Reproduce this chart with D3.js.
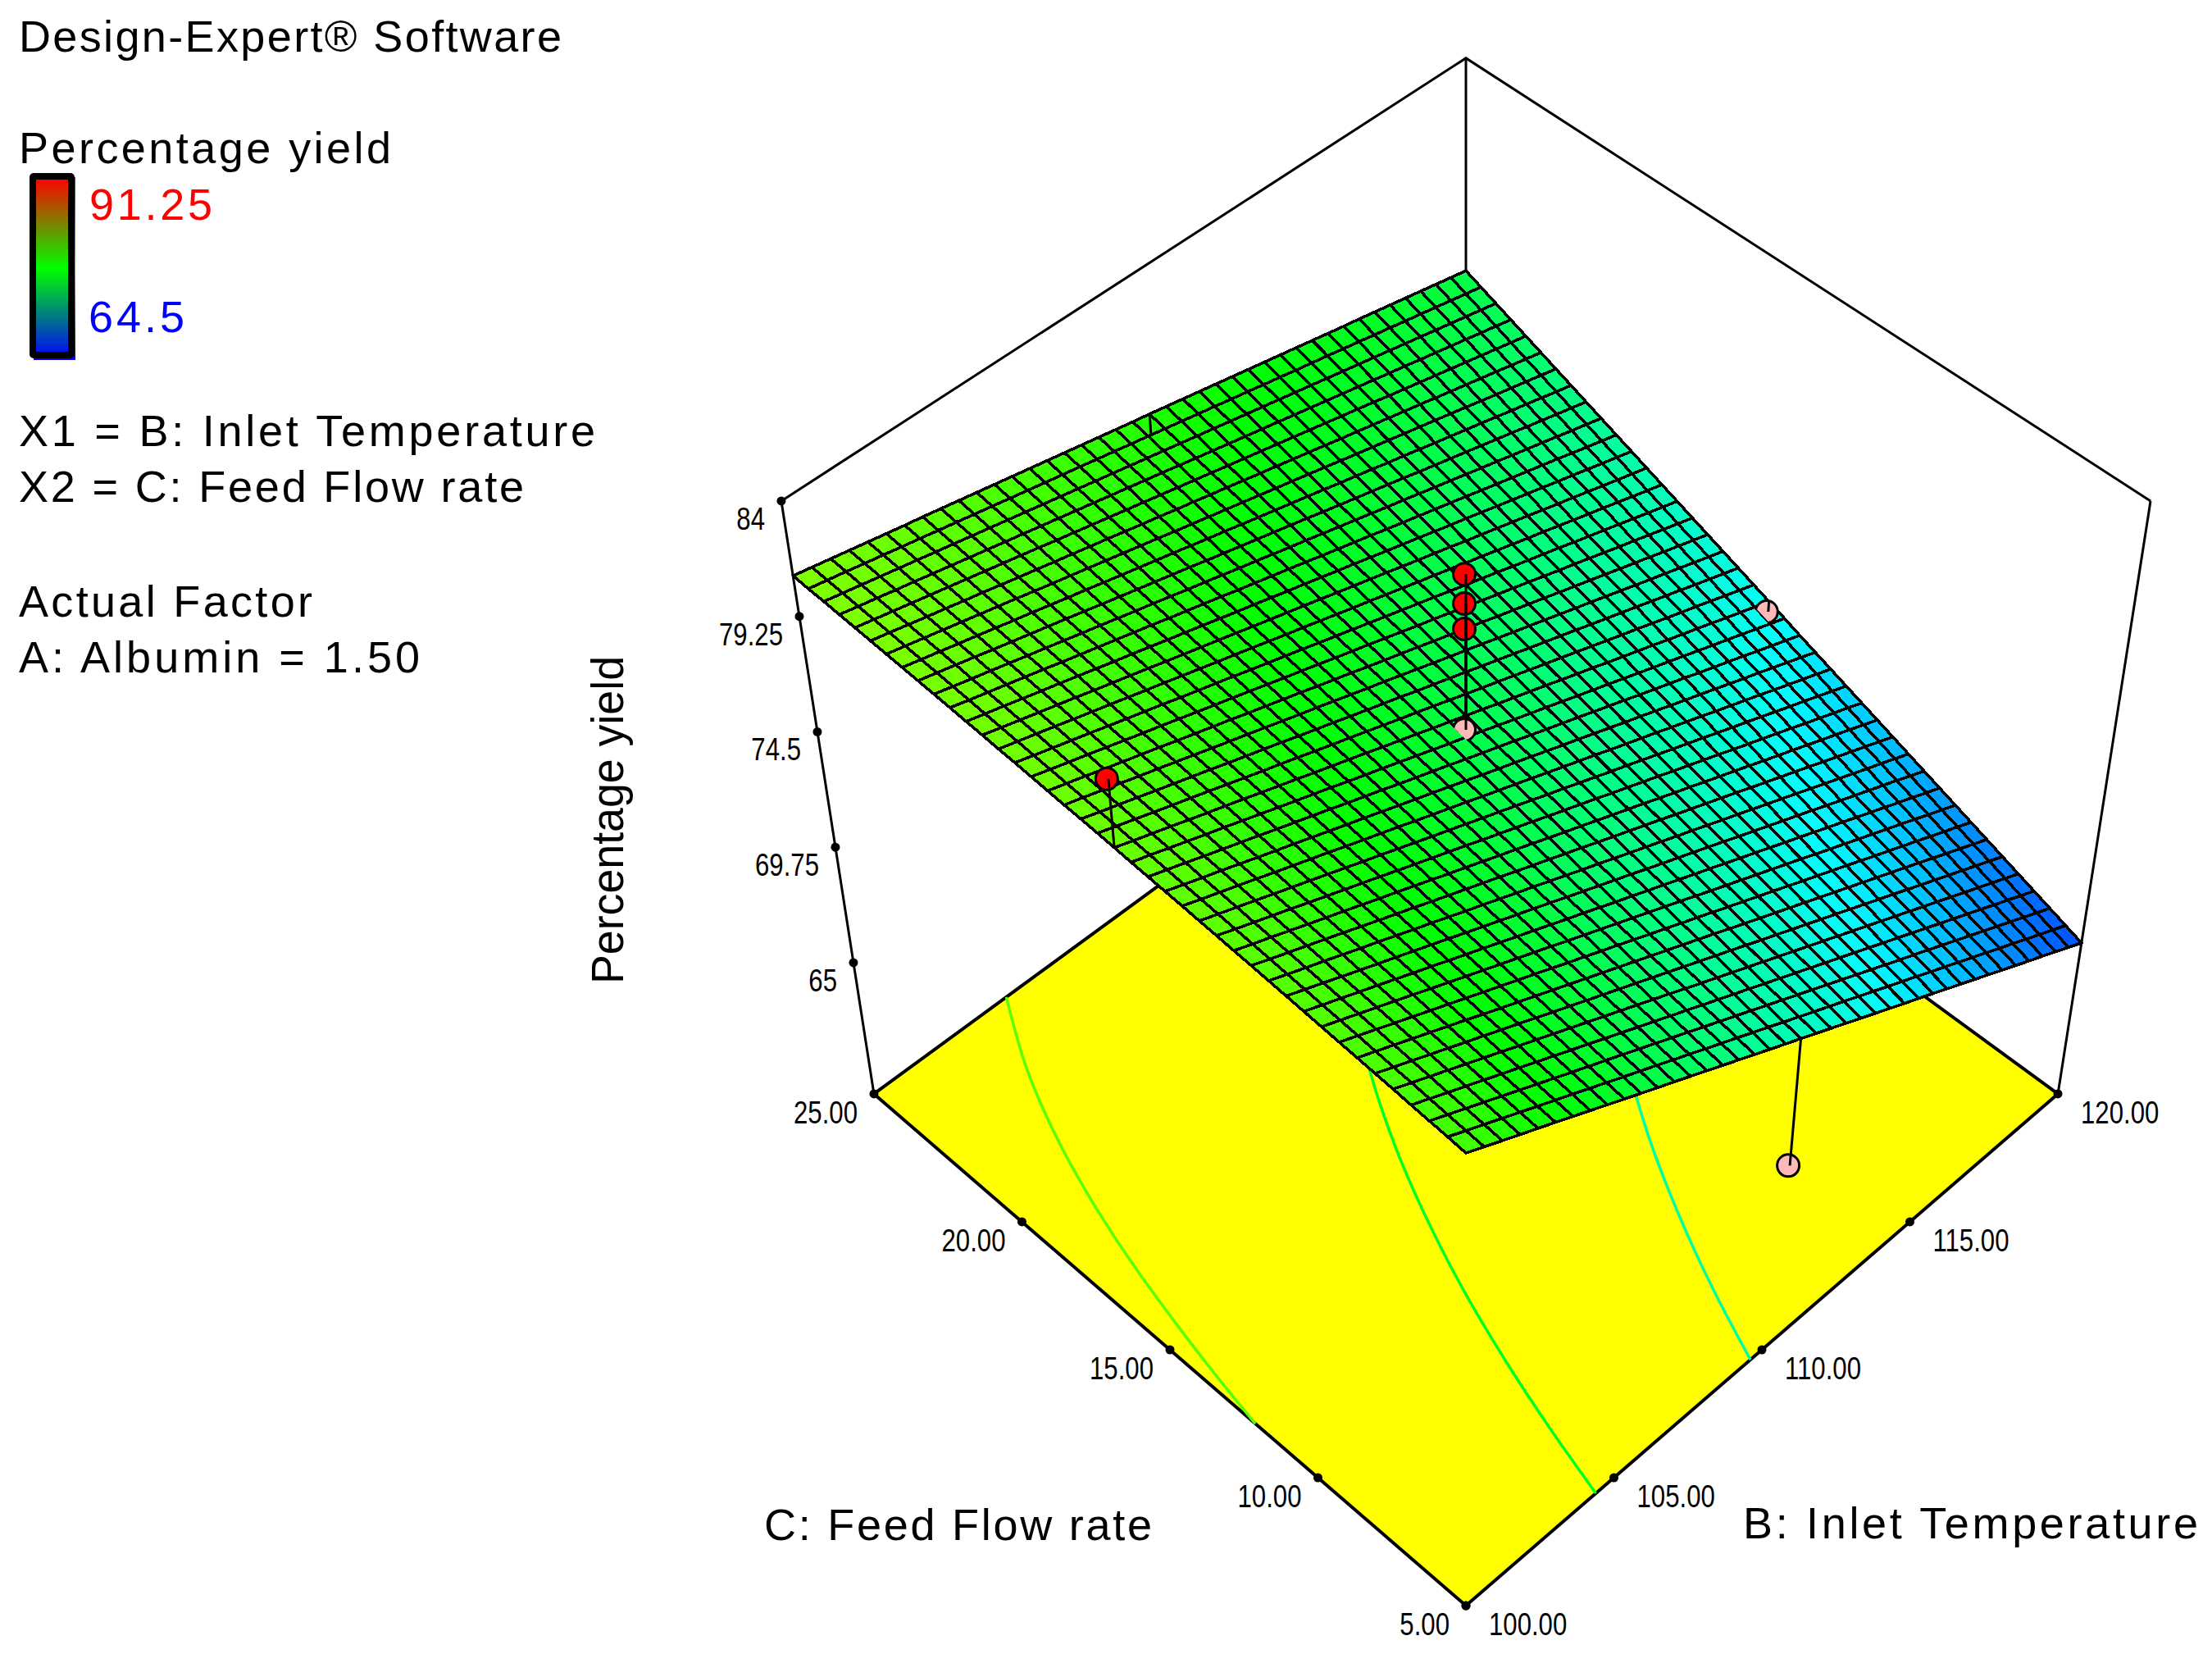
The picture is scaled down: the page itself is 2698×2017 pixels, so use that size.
<!DOCTYPE html>
<html>
<head>
<meta charset="utf-8">
<script src="https://cdnjs.cloudflare.com/ajax/libs/d3/7.8.5/d3.min.js"></script>
<style>
  html, body { margin: 0; background: #fff; }
  text { font-family: "Liberation Sans", Arial, sans-serif; fill: #000; }
</style>
</head>
<body>
<svg id="chart" width="2698" height="2017"></svg>
<script>
// axis ticks
const tempTicks = [100, 105, 110, 115, 120]
const flowTicks = [5, 10, 15, 20, 25]
const yieldTicks = [65, 69.75, 74.5, 79.25, 84]
const yieldLabels = ['65', '69.75', '74.5', '79.25', '84']
const yieldFloor = 59.6

// legend
const legendMax = 91.25
const legendMin = 64.5
const legendStops = ['#ff0000', '#00ff00', '#0000ff']
const surfaceColors = ['#0000ff', '#00ffff', '#00ff00', '#ffff00', '#ff0000']

// design points: B, C, yield
const pointTemp = [100, 110, 110, 110, 110, 110, 120, 110]
const pointFlow = [15, 15, 15, 15, 15, 5, 15, 25]
const pointYield = [83.17, 81.35, 80.26, 79.31, 75.41, 67.65, 70.9, 77.86]
const pointKind = ['above', 'above', 'above', 'above', 'cut', 'below', 'cut', 'hidden']

// contours on the floor
const contourLevels = [80.2, 76.95, 73.65]
const contourTemp = [
  [104.2, 103.09, 102.24, 101.57, 101.03, 100.59, 100.21, 100],
  [110.15, 108.79, 107.67, 106.73, 105.92, 105.23, 104.63, 104.1],
  [113.44, 112.14, 111.02, 110.04, 109.18]
]
const contourFlow = [
  [25, 23, 21, 19, 17, 15, 13, 11.72],
  [19, 17, 15, 13, 11, 9, 7, 5],
  [13, 11, 9, 7, 5]
]

// surface: one row per flow rate (5 to 25 by 0.5), one column per temperature (100 to 120 by 0.5)
const surfaceYield = [
[79.66,79.33,79.00,78.67,78.35,78.02,77.69,77.36,77.03,76.70,76.37,76.04,75.72,75.39,75.06,74.73,74.40,74.07,73.74,73.41,73.09,72.76,72.43,72.10,71.77,71.44,71.11,70.78,70.46,70.13,69.80,69.47,69.14,68.81,68.48,68.15,67.82,67.50,67.17,66.84,66.51],
[79.72,79.39,79.07,78.74,78.42,78.09,77.77,77.45,77.12,76.80,76.47,76.15,75.83,75.50,75.18,74.85,74.53,74.21,73.88,73.56,73.23,72.91,72.58,72.26,71.94,71.61,71.29,70.96,70.64,70.32,69.99,69.67,69.34,69.02,68.70,68.37,68.05,67.72,67.40,67.08,66.75],
[79.77,79.45,79.13,78.81,78.49,78.17,77.85,77.53,77.21,76.89,76.58,76.26,75.94,75.62,75.30,74.98,74.66,74.34,74.02,73.70,73.38,73.06,72.74,72.42,72.10,71.78,71.46,71.14,70.82,70.50,70.19,69.87,69.55,69.23,68.91,68.59,68.27,67.95,67.63,67.31,66.99],
[79.82,79.51,79.19,78.88,78.57,78.25,77.94,77.62,77.31,76.99,76.68,76.36,76.05,75.73,75.42,75.10,74.79,74.47,74.16,73.84,73.53,73.21,72.90,72.58,72.27,71.95,71.64,71.32,71.01,70.69,70.38,70.06,69.75,69.43,69.12,68.80,68.49,68.17,67.86,67.54,67.23],
[79.88,79.57,79.26,78.95,78.64,78.33,78.02,77.71,77.40,77.09,76.78,76.47,76.16,75.85,75.54,75.23,74.92,74.60,74.29,73.98,73.67,73.36,73.05,72.74,72.43,72.12,71.81,71.50,71.19,70.88,70.57,70.26,69.95,69.64,69.33,69.02,68.71,68.40,68.09,67.78,67.47],
[79.93,79.62,79.32,79.01,78.71,78.40,78.10,77.79,77.49,77.18,76.87,76.57,76.26,75.96,75.65,75.35,75.04,74.74,74.43,74.13,73.82,73.52,73.21,72.90,72.60,72.29,71.99,71.68,71.38,71.07,70.77,70.46,70.16,69.85,69.54,69.24,68.93,68.63,68.32,68.02,67.71],
[79.98,79.68,79.38,79.08,78.78,78.48,78.18,77.87,77.57,77.27,76.97,76.67,76.37,76.07,75.77,75.47,75.17,74.87,74.57,74.27,73.97,73.67,73.36,73.06,72.76,72.46,72.16,71.86,71.56,71.26,70.96,70.66,70.36,70.06,69.76,69.46,69.16,68.85,68.55,68.25,67.95],
[80.03,79.74,79.44,79.14,78.85,78.55,78.26,77.96,77.66,77.37,77.07,76.78,76.48,76.18,75.89,75.59,75.30,75.00,74.70,74.41,74.11,73.82,73.52,73.22,72.93,72.63,72.34,72.04,71.74,71.45,71.15,70.86,70.56,70.26,69.97,69.67,69.38,69.08,68.78,68.49,68.19],
[80.08,79.79,79.50,79.21,78.92,78.63,78.33,78.04,77.75,77.46,77.17,76.88,76.59,76.30,76.00,75.71,75.42,75.13,74.84,74.55,74.26,73.97,73.67,73.38,73.09,72.80,72.51,72.22,71.93,71.64,71.34,71.05,70.76,70.47,70.18,69.89,69.60,69.31,69.01,68.72,68.43],
[80.13,79.84,79.56,79.27,78.99,78.70,78.41,78.13,77.84,77.55,77.27,76.98,76.69,76.41,76.12,75.83,75.55,75.26,74.97,74.69,74.40,74.12,73.83,73.54,73.26,72.97,72.68,72.40,72.11,71.82,71.54,71.25,70.96,70.68,70.39,70.10,69.82,69.53,69.25,68.96,68.67],
[80.18,79.90,79.62,79.33,79.05,78.77,78.49,78.21,77.93,77.65,77.36,77.08,76.80,76.52,76.24,75.96,75.67,75.39,75.11,74.83,74.55,74.26,73.98,73.70,73.42,73.14,72.86,72.57,72.29,72.01,71.73,71.45,71.17,70.88,70.60,70.32,70.04,69.76,69.48,69.19,68.91],
[80.23,79.95,79.67,79.40,79.12,78.84,78.57,78.29,78.01,77.74,77.46,77.18,76.91,76.63,76.35,76.08,75.80,75.52,75.24,74.97,74.69,74.41,74.14,73.86,73.58,73.31,73.03,72.75,72.48,72.20,71.92,71.65,71.37,71.09,70.81,70.54,70.26,69.98,69.71,69.43,69.15],
[80.28,80.00,79.73,79.46,79.19,78.92,78.64,78.37,78.10,77.83,77.55,77.28,77.01,76.74,76.47,76.19,75.92,75.65,75.38,75.11,74.83,74.56,74.29,74.02,73.75,73.47,73.20,72.93,72.66,72.39,72.11,71.84,71.57,71.30,71.03,70.75,70.48,70.21,69.94,69.67,69.39],
[80.32,80.05,79.79,79.52,79.25,78.98,78.72,78.45,78.18,77.92,77.65,77.38,77.11,76.85,76.58,76.31,76.05,75.78,75.51,75.24,74.98,74.71,74.44,74.18,73.91,73.64,73.37,73.11,72.84,72.57,72.31,72.04,71.77,71.50,71.24,70.97,70.70,70.44,70.17,69.90,69.63],
[80.37,80.10,79.84,79.58,79.32,79.05,78.79,78.53,78.27,78.01,77.74,77.48,77.22,76.96,76.70,76.43,76.17,75.91,75.65,75.38,75.12,74.86,74.60,74.33,74.07,73.81,73.55,73.28,73.02,72.76,72.50,72.23,71.97,71.71,71.45,71.19,70.92,70.66,70.40,70.14,69.87],
[80.41,80.15,79.90,79.64,79.38,79.12,78.87,78.61,78.35,78.09,77.84,77.58,77.32,77.06,76.81,76.55,76.29,76.04,75.78,75.52,75.26,75.01,74.75,74.49,74.23,73.98,73.72,73.46,73.20,72.95,72.69,72.43,72.17,71.92,71.66,71.40,71.14,70.89,70.63,70.37,70.11],
[80.46,80.20,79.95,79.70,79.45,79.19,78.94,78.69,78.44,78.18,77.93,77.68,77.43,77.17,76.92,76.67,76.42,76.16,75.91,75.66,75.41,75.15,74.90,74.65,74.40,74.14,73.89,73.64,73.39,73.13,72.88,72.63,72.37,72.12,71.87,71.62,71.36,71.11,70.86,70.61,70.35],
[80.50,80.25,80.00,79.76,79.51,79.26,79.01,78.77,78.52,78.27,78.02,77.78,77.53,77.28,77.03,76.79,76.54,76.29,76.04,75.79,75.55,75.30,75.05,74.80,74.56,74.31,74.06,73.81,73.57,73.32,73.07,72.82,72.58,72.33,72.08,71.83,71.59,71.34,71.09,70.84,70.59],
[80.54,80.30,80.06,79.81,79.57,79.33,79.09,78.84,78.60,78.36,78.12,77.87,77.63,77.39,77.14,76.90,76.66,76.42,76.17,75.93,75.69,75.45,75.20,74.96,74.72,74.48,74.23,73.99,73.75,73.50,73.26,73.02,72.78,72.53,72.29,72.05,71.81,71.56,71.32,71.08,70.83],
[80.58,80.35,80.11,79.87,79.63,79.40,79.16,78.92,78.68,78.44,78.21,77.97,77.73,77.49,77.26,77.02,76.78,76.54,76.30,76.07,75.83,75.59,75.35,75.11,74.88,74.64,74.40,74.16,73.93,73.69,73.45,73.21,72.98,72.74,72.50,72.26,72.03,71.79,71.55,71.31,71.08],
[80.63,80.39,80.16,79.93,79.69,79.46,79.23,79.00,78.76,78.53,78.30,78.06,77.83,77.60,77.37,77.13,76.90,76.67,76.43,76.20,75.97,75.74,75.50,75.27,75.04,74.81,74.57,74.34,74.11,73.87,73.64,73.41,73.18,72.94,72.71,72.48,72.25,72.01,71.78,71.55,71.32],
[80.67,80.44,80.21,79.98,79.75,79.53,79.30,79.07,78.84,78.61,78.39,78.16,77.93,77.70,77.48,77.25,77.02,76.79,76.57,76.34,76.11,75.88,75.65,75.43,75.20,74.97,74.74,74.52,74.29,74.06,73.83,73.60,73.38,73.15,72.92,72.69,72.47,72.24,72.01,71.78,71.56],
[80.71,80.48,80.26,80.04,79.81,79.59,79.37,79.15,78.92,78.70,78.48,78.26,78.03,77.81,77.59,77.36,77.14,76.92,76.70,76.47,76.25,76.03,75.81,75.58,75.36,75.14,74.91,74.69,74.47,74.25,74.02,73.80,73.58,73.36,73.13,72.91,72.69,72.46,72.24,72.02,71.80],
[80.74,80.53,80.31,80.09,79.87,79.66,79.44,79.22,79.00,78.78,78.57,78.35,78.13,77.91,77.70,77.48,77.26,77.04,76.83,76.61,76.39,76.17,75.95,75.74,75.52,75.30,75.08,74.87,74.65,74.43,74.21,74.00,73.78,73.56,73.34,73.12,72.91,72.69,72.47,72.25,72.04],
[80.78,80.57,80.36,80.14,79.93,79.72,79.51,79.29,79.08,78.87,78.66,78.44,78.23,78.02,77.81,77.59,77.38,77.17,76.95,76.74,76.53,76.32,76.10,75.89,75.68,75.47,75.25,75.04,74.83,74.62,74.40,74.19,73.98,73.77,73.55,73.34,73.13,72.91,72.70,72.49,72.28],
[80.82,80.61,80.40,80.20,79.99,79.78,79.57,79.37,79.16,78.95,78.74,78.54,78.33,78.12,77.91,77.71,77.50,77.29,77.08,76.88,76.67,76.46,76.25,76.05,75.84,75.63,75.42,75.21,75.01,74.80,74.59,74.38,74.18,73.97,73.76,73.55,73.35,73.14,72.93,72.72,72.52],
[80.86,80.65,80.45,80.25,80.05,79.84,79.64,79.44,79.24,79.03,78.83,78.63,78.43,78.22,78.02,77.82,77.62,77.41,77.21,77.01,76.81,76.60,76.40,76.20,76.00,75.79,75.59,75.39,75.19,74.98,74.78,74.58,74.38,74.17,73.97,73.77,73.57,73.36,73.16,72.96,72.76],
[80.89,80.69,80.50,80.30,80.10,79.90,79.71,79.51,79.31,79.12,78.92,78.72,78.52,78.33,78.13,77.93,77.73,77.54,77.34,77.14,76.94,76.75,76.55,76.35,76.15,75.96,75.76,75.56,75.37,75.17,74.97,74.77,74.58,74.38,74.18,73.98,73.79,73.59,73.39,73.19,73.00],
[80.93,80.73,80.54,80.35,80.16,79.97,79.77,79.58,79.39,79.20,79.00,78.81,78.62,78.43,78.24,78.04,77.85,77.66,77.47,77.28,77.08,76.89,76.70,76.51,76.31,76.12,75.93,75.74,75.54,75.35,75.16,74.97,74.78,74.58,74.39,74.20,74.01,73.81,73.62,73.43,73.24],
[80.96,80.77,80.59,80.40,80.21,80.03,79.84,79.65,79.46,79.28,79.09,78.90,78.72,78.53,78.34,78.15,77.97,77.78,77.59,77.41,77.22,77.03,76.85,76.66,76.47,76.28,76.10,75.91,75.72,75.54,75.35,75.16,74.97,74.79,74.60,74.41,74.23,74.04,73.85,73.67,73.48],
[81.00,80.81,80.63,80.45,80.27,80.09,79.90,79.72,79.54,79.36,79.18,79.00,78.81,78.63,78.45,78.27,78.08,77.90,77.72,77.54,77.36,77.17,76.99,76.81,76.63,76.44,76.26,76.08,75.90,75.72,75.54,75.35,75.17,74.99,74.81,74.63,74.45,74.26,74.08,73.90,73.72],
[81.03,80.85,80.67,80.50,80.32,80.14,79.97,79.79,79.61,79.44,79.26,79.08,78.91,78.73,78.55,78.38,78.20,78.02,77.85,77.67,77.49,77.32,77.14,76.96,76.79,76.61,76.43,76.26,76.08,75.90,75.73,75.55,75.37,75.20,75.02,74.84,74.67,74.49,74.31,74.14,73.96],
[81.06,80.89,80.72,80.55,80.37,80.20,80.03,79.86,79.69,79.52,79.34,79.17,79.00,78.83,78.66,78.49,78.31,78.14,77.97,77.80,77.63,77.46,77.29,77.11,76.94,76.77,76.60,76.43,76.26,76.08,75.91,75.74,75.57,75.40,75.23,75.06,74.88,74.71,74.54,74.37,74.20],
[81.09,80.92,80.76,80.59,80.43,80.26,80.09,79.93,79.76,79.59,79.43,79.26,79.09,78.93,78.76,78.60,78.43,78.26,78.10,77.93,77.76,77.60,77.43,77.27,77.10,76.93,76.77,76.60,76.43,76.27,76.10,75.93,75.77,75.60,75.44,75.27,75.10,74.94,74.77,74.60,74.44],
[81.12,80.96,80.80,80.64,80.48,80.32,80.16,80.00,79.83,79.67,79.51,79.35,79.19,79.03,78.87,78.71,78.54,78.38,78.22,78.06,77.90,77.74,77.58,77.42,77.26,77.10,76.93,76.77,76.61,76.45,76.29,76.13,75.97,75.81,75.65,75.48,75.32,75.16,75.00,74.84,74.68],
[81.15,81.00,80.84,80.68,80.53,80.37,80.22,80.06,79.90,79.75,79.59,79.44,79.28,79.13,78.97,78.81,78.66,78.50,78.35,78.19,78.04,77.88,77.72,77.57,77.41,77.26,77.10,76.94,76.79,76.63,76.48,76.32,76.17,76.01,75.85,75.70,75.54,75.39,75.23,75.07,74.92],
[81.18,81.03,80.88,80.73,80.58,80.43,80.28,80.13,79.98,79.83,79.68,79.52,79.37,79.22,79.07,78.92,78.77,78.62,78.47,78.32,78.17,78.02,77.87,77.72,77.57,77.42,77.27,77.12,76.97,76.82,76.67,76.51,76.36,76.21,76.06,75.91,75.76,75.61,75.46,75.31,75.16],
[81.21,81.06,80.92,80.77,80.63,80.48,80.34,80.19,80.05,79.90,79.76,79.61,79.47,79.32,79.18,79.03,78.89,78.74,78.60,78.45,78.30,78.16,78.01,77.87,77.72,77.58,77.43,77.29,77.14,77.00,76.85,76.71,76.56,76.42,76.27,76.13,75.98,75.84,75.69,75.55,75.40],
[81.24,81.10,80.96,80.82,80.68,80.54,80.40,80.26,80.12,79.98,79.84,79.70,79.56,79.42,79.28,79.14,79.00,78.86,78.72,78.58,78.44,78.30,78.16,78.02,77.88,77.74,77.60,77.46,77.32,77.18,77.04,76.90,76.76,76.62,76.48,76.34,76.20,76.06,75.92,75.78,75.64],
[81.26,81.13,81.00,80.86,80.73,80.59,80.46,80.32,80.19,80.05,79.92,79.78,79.65,79.51,79.38,79.25,79.11,78.98,78.84,78.71,78.57,78.44,78.30,78.17,78.03,77.90,77.76,77.63,77.49,77.36,77.23,77.09,76.96,76.82,76.69,76.55,76.42,76.28,76.15,76.01,75.88],
[81.29,81.16,81.03,80.90,80.77,80.64,80.51,80.39,80.26,80.13,80.00,79.87,79.74,79.61,79.48,79.35,79.22,79.09,78.96,78.83,78.71,78.58,78.45,78.32,78.19,78.06,77.93,77.80,77.67,77.54,77.41,77.28,77.15,77.03,76.90,76.77,76.64,76.51,76.38,76.25,76.12]
]

const svg = d3.select('#chart')
const lineWidth = 3

// scales from the factors to the unit box
const uScale = d3.scaleLinear().domain([100, 120]).range([0, 1])
const vScale = d3.scaleLinear().domain([5, 25]).range([0, 1])
const wScale = d3.scaleLinear().domain([yieldFloor, 84]).range([0, 1])
const colorScale = d3.scaleLinear().domain(d3.range(5).map(i => legendMin + i * (legendMax - legendMin) / 4)).range(surfaceColors)

// perspective view, fitted to the corners of the box
const cam = {cx: 1788, k: 787.6, y0: 1958, y1: -502.9, y2: -878.9, p: 0.0908, q: -0.1476}
function project(temp, flow, z){
  const u = uScale(temp), v = vScale(flow), w = wScale(z)
  const a = u - v, b = u + v
  const den = 1 + cam.p * b + cam.q * w
  return [cam.cx + cam.k * a / den, (cam.y0 + cam.y1 * b + cam.y2 * w) / den]
}

const tempAt = i => 100 + i * 0.5
const flowAt = j => 5 + j * 0.5
const meshPoint = (i, j) => project(tempAt(i), flowAt(j), surfaceYield[j][i])
const toPath = pts => 'M' + pts.map(p => p.join(',')).join('L') + 'Z'

// box
const $box = svg.append('g').attr('fill', 'none').attr('stroke', '#000').attr('stroke-width', lineWidth)
const back = project(120, 25, 84)
$box.append('path').attr('d', d3.line()([project(100, 25, 84), back, project(120, 5, 84)]))
$box.append('path').attr('d', d3.line()([back, project(120, 25, yieldFloor)]))
$box.append('path').attr('d', d3.line()([project(100, 25, 84), project(100, 25, yieldFloor)]))
$box.append('path').attr('d', d3.line()([project(120, 5, 84), project(120, 5, yieldFloor)]))

// floor
svg.append('path')
  .attr('d', toPath([[100, 5], [100, 25], [120, 25], [120, 5]].map(([t, f]) => project(t, f, yieldFloor))))
  .attr('fill', '#ffff00').attr('stroke', '#000').attr('stroke-width', 4).attr('stroke-linejoin', 'round')

// contours
contourLevels.forEach((level, n) => {
  const pts = contourTemp[n].map((t, i) => project(t, contourFlow[n][i], yieldFloor))
  svg.append('path')
    .attr('d', d3.line().curve(d3.curveCatmullRom)(pts))
    .attr('fill', 'none').attr('stroke', colorScale(level)).attr('stroke-width', 3.5)
})

// axes: the ticks run evenly along the drawn edges
function edgeScale(domain, from, to){
  const x = d3.scaleLinear().domain(domain).range([from[0], to[0]])
  const y = d3.scaleLinear().domain(domain).range([from[1], to[1]])
  return v => [x(v), y(v)]
}
const tempEdge = edgeScale([100, 120], project(100, 5, yieldFloor), project(120, 5, yieldFloor))
const flowEdge = edgeScale([5, 25], project(100, 5, yieldFloor), project(100, 25, yieldFloor))
const yieldEdge = edgeScale([yieldFloor, 84], project(100, 25, yieldFloor), project(100, 25, 84))

function drawTicks(ticks, edge, labels, anchor, dx, dy){
  const g = svg.append('g')
  g.selectAll('circle').data(ticks).join('circle')
    .attr('cx', d => edge(d)[0]).attr('cy', d => edge(d)[1]).attr('r', 5.5).attr('fill', '#000')
  g.selectAll('text').data(ticks).join('text')
    .attr('transform', d => `translate(${edge(d)[0] + dx},${edge(d)[1] + dy}) scale(0.82,1)`)
    .attr('text-anchor', anchor).attr('font-size', 38)
    .text((d, i) => labels[i])
}
drawTicks(tempTicks, tempEdge, tempTicks.map(d => d.toFixed(2)), 'start', 28, 36)
drawTicks(flowTicks, flowEdge, flowTicks.map(d => d.toFixed(2)), 'end', -20, 36)
drawTicks(yieldTicks, yieldEdge, yieldLabels, 'end', -20, 35)

// surface
const cells = []
for(let j = 0; j < 40; j++){
  for(let i = 0; i < 40; i++) cells.push([i, j])
}
svg.append('g').attr('shape-rendering', 'crispEdges')
  .selectAll('path').data(cells).join('path')
  .attr('d', ([i, j]) => toPath([meshPoint(i, j), meshPoint(i + 1, j), meshPoint(i + 1, j + 1), meshPoint(i, j + 1)]))
  .attr('fill', ([i, j]) => colorScale((surfaceYield[j][i] + surfaceYield[j][i + 1] + surfaceYield[j + 1][i] + surfaceYield[j + 1][i + 1]) / 4))
  .attr('stroke', '#000').attr('stroke-width', 3.6).attr('stroke-linejoin', 'round')

// design points
const points = pointTemp.map((t, n) => {
  const i = Math.round((t - 100) * 2), j = Math.round((pointFlow[n] - 5) * 2)
  return {i, j, kind: pointKind[n], at: project(t, pointFlow[n], pointYield[n]), top: meshPoint(i, j)}
})
const defs = svg.append('defs')
points.filter(d => d.kind === 'cut').forEach((d, n) => {
  // the surface hides the marker on the low temperature side of the next grid line
  const p1 = meshPoint(d.i - 1, 0), p2 = meshPoint(d.i - 1, 40)
  d.clip = 'cut' + n
  defs.append('clipPath').attr('id', d.clip).append('path')
    .attr('d', toPath([p1, p2, [p2[0] + 900, p2[1] - 900], [p1[0] + 900, p1[1] - 900]]))
})
const $points = svg.append('g')
$points.selectAll('circle').data(points.filter(d => d.kind !== 'hidden')).join('circle')
  .attr('cx', d => d.at[0] - 2).attr('cy', d => d.at[1]).attr('r', 13.5)
  .attr('fill', d => d.kind === 'above' ? '#ff0000' : '#ffb9b9')
  .attr('stroke', '#000').attr('stroke-width', 3)
  .attr('clip-path', d => d.clip ? `url(#${d.clip})` : null)
$points.selectAll('line').data(points).join('line')
  .attr('x1', d => d.at[0]).attr('y1', d => d.at[1])
  .attr('x2', d => d.top[0]).attr('y2', d => d.top[1])
  .attr('stroke', '#000').attr('stroke-width', lineWidth)

// axis titles
function label(str, x, y, length, color){
  return svg.append('text').attr('x', x).attr('y', y).attr('font-size', 54)
    .attr('textLength', length).attr('lengthAdjust', 'spacing')
    .style('fill', color || '#000').text(str)
}
label('C: Feed Flow rate', 932, 1878, 473)
label('B: Inlet Temperature', 2126, 1876, 555)
svg.append('text').attr('transform', 'translate(760,1200) rotate(-90)')
  .attr('font-size', 56).attr('textLength', 400).attr('lengthAdjust', 'spacingAndGlyphs').text('Percentage yield')

// side notes
label('Design-Expert\u00AE Software', 23, 63, 662)
label('Percentage yield', 23, 199, 454)
label(String(legendMax), 109, 268, 150, '#ff0000')
label(String(legendMin), 108, 405, 117, '#0000ff')
label('X1 = B: Inlet Temperature', 23, 544, 703)
label('X2 = C: Feed Flow rate', 23, 612, 616)
label('Actual Factor', 23, 752, 358)
label('A: Albumin = 1.50', 23, 820, 489)

// legend bar
const grad = defs.append('linearGradient').attr('id', 'legendGrad').attr('x1', 0).attr('y1', 0).attr('x2', 0).attr('y2', 1)
grad.selectAll('stop').data(legendStops).join('stop')
  .attr('offset', (d, i) => i / (legendStops.length - 1)).attr('stop-color', d => d)
svg.append('rect').attr('x', 41).attr('y', 216).attr('width', 51).attr('height', 223).attr('fill', 'url(#legendGrad)')
svg.append('rect').attr('x', 40).attr('y', 215).attr('width', 47).attr('height', 218)
  .attr('fill', 'none').attr('stroke', '#000').attr('stroke-width', 8).attr('rx', 1)
</script>
</body>
</html>
